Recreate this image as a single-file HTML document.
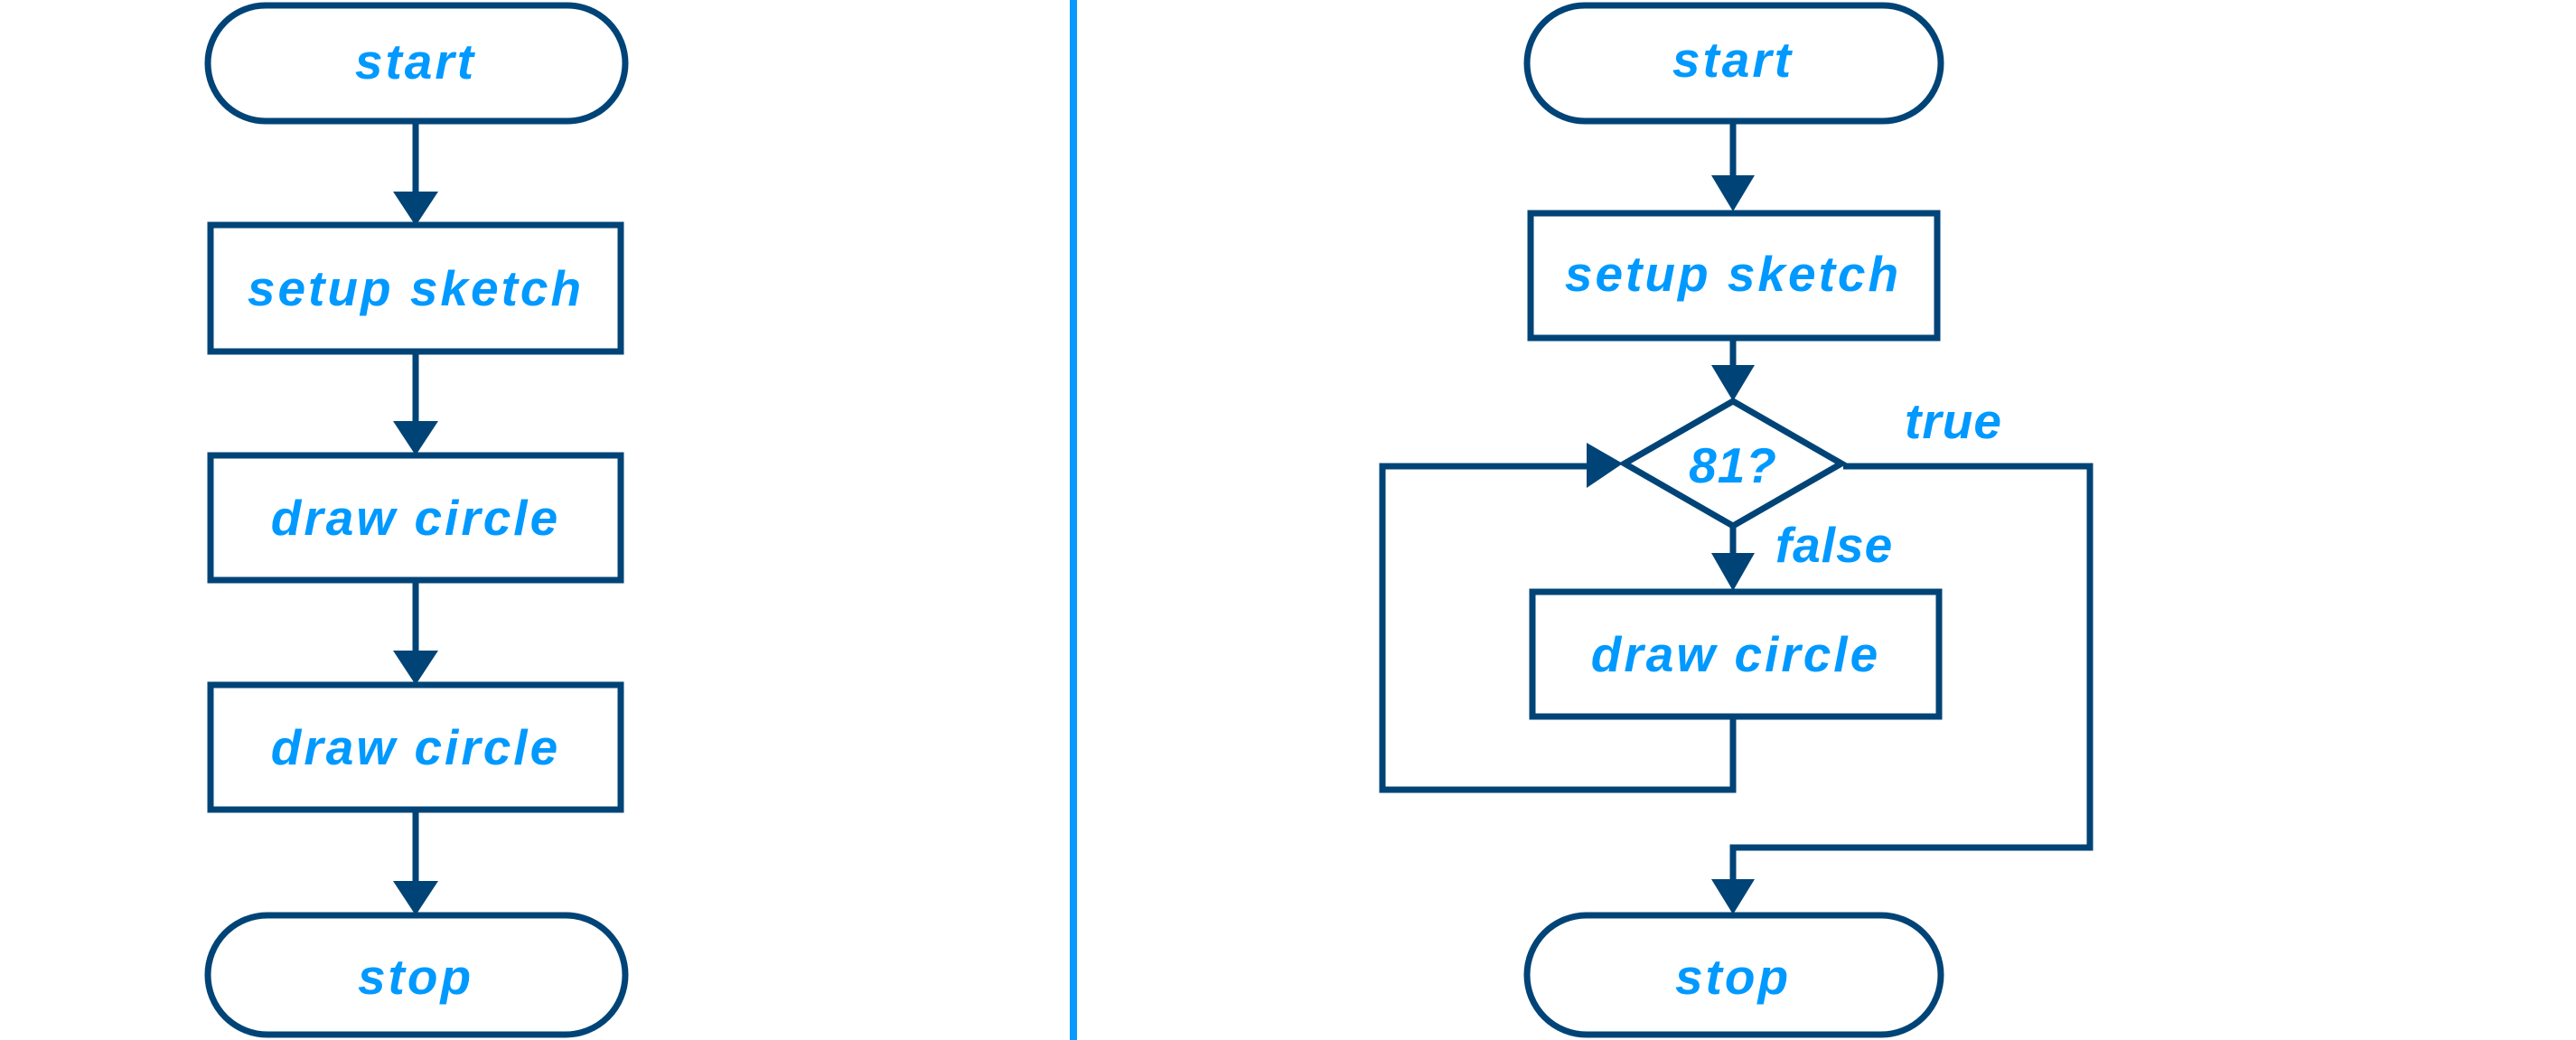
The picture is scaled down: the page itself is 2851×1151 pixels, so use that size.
<!DOCTYPE html>
<html><head><meta charset="utf-8"><style>
html,body{margin:0;padding:0;background:#fff;}
svg{display:block;}
text{font-family:"Liberation Sans",sans-serif;font-weight:bold;font-style:italic;fill:#0099ff;font-size:55px;letter-spacing:3px;text-anchor:middle;}
</style></head><body>
<svg width="2851" height="1151" viewBox="0 0 2851 1151" xmlns="http://www.w3.org/2000/svg">
<g fill="none" stroke="#004477" stroke-width="7">
<!-- left column -->
<rect x="230" y="6" width="462" height="128" rx="64"/>
<rect x="233" y="249" width="454" height="140"/>
<rect x="233" y="504" width="454" height="138"/>
<rect x="233" y="758" width="454" height="138"/>
<rect x="230" y="1013" width="462" height="132" rx="66"/>
<line x1="460" y1="136" x2="460" y2="215"/>
<line x1="460" y1="391" x2="460" y2="470"/>
<line x1="460" y1="644" x2="460" y2="724"/>
<line x1="460" y1="898" x2="460" y2="979"/>
<!-- right column -->
<rect x="1690" y="6" width="458" height="128" rx="64"/>
<rect x="1694" y="236" width="450" height="138"/>
<polygon points="1918,444 2038,513 1918,582 1798,513"/>
<rect x="1696" y="655" width="450" height="138"/>
<rect x="1690" y="1013" width="458" height="132" rx="66"/>
<line x1="1918" y1="136" x2="1918" y2="195"/>
<line x1="1918" y1="376" x2="1918" y2="410"/>
<line x1="1918" y1="582" x2="1918" y2="620"/>
<polyline points="1918,795 1918,874 1530,874 1530,516 1760,516"/>
<polyline points="2040,516 2313,516 2313,938 1918,938 1918,980"/>
</g>
<g fill="#004477">
<polygon points="435,212 485,212 460,250"/>
<polygon points="435,466 485,466 460,504"/>
<polygon points="435,720 485,720 460,758"/>
<polygon points="435,975 485,975 460,1013"/>
<polygon points="1894,194 1942,194 1918,234"/>
<polygon points="1894,404 1942,404 1918,444"/>
<polygon points="1894,612 1942,612 1918,654"/>
<polygon points="1894,973 1942,973 1918,1012"/>
<polygon points="1756,490 1756,540 1796,513"/>
</g>
<rect x="1184" y="0" width="8" height="1151" fill="#0a99ff"/>
<text x="460" y="87">start</text>
<text x="460" y="338">setup sketch</text>
<text x="460" y="592">draw circle</text>
<text x="460" y="846">draw circle</text>
<text x="460" y="1100">stop</text>
<text x="1918" y="85">start</text>
<text x="1918" y="322">setup sketch</text>
<text x="1918" y="534" style="letter-spacing:1px">81?</text>
<text x="2162" y="485" style="letter-spacing:1px">true</text>
<text x="2030" y="622" style="letter-spacing:1px">false</text>
<text x="1921" y="743">draw circle</text>
<text x="1918" y="1100">stop</text>
</svg>
</body></html>
